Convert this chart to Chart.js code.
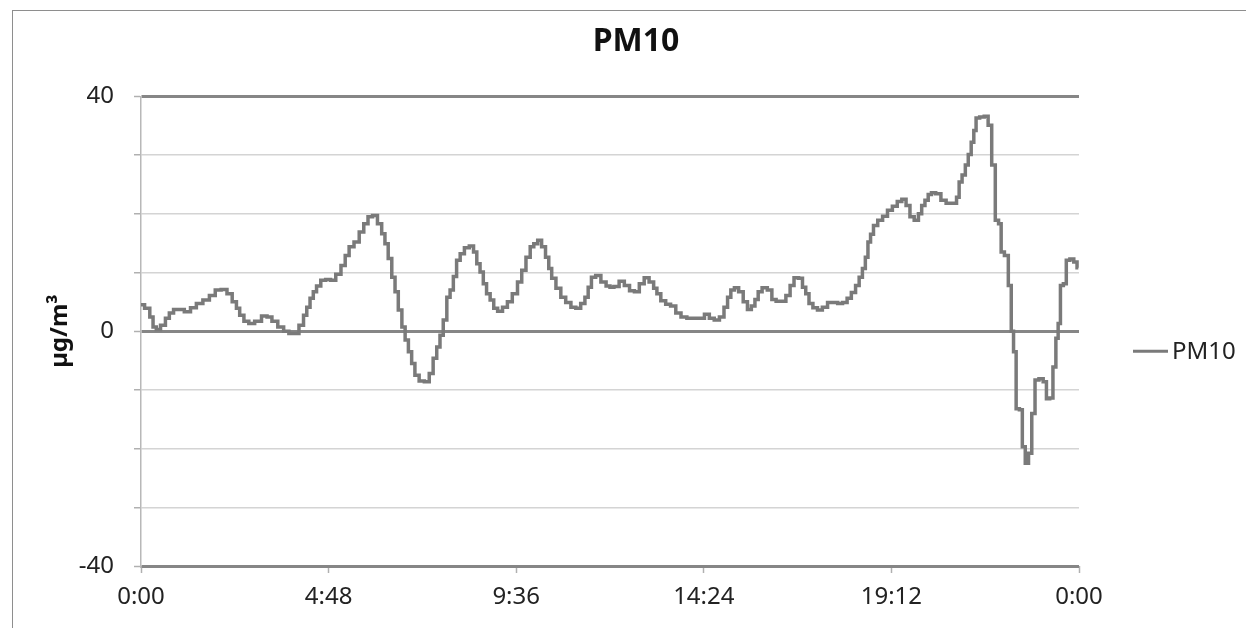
<!DOCTYPE html>
<html>
<head>
<meta charset="utf-8">
<title>PM10</title>
<script src="https://cdn.jsdelivr.net/npm/chart.js@4"></script>
<style>
  html, body { margin: 0; padding: 0; background: #fff; }
  #wrap { position: relative; width: 1246px; height: 628px; overflow: hidden; }
  #frame { position: absolute; left: 12px; top: 10px; width: 1300px; height: 700px; border: 1.5px solid #8e8e8e; }
  #pm10Chart { position: absolute; left: 0; top: 0; }
</style>
</head>
<body>
<div id="wrap">
  <div id="frame"></div>
  <canvas id="pm10Chart" width="1246" height="628"></canvas>
</div>
<script>
// time of day in minutes
const minutes = [
  0, 11, 16, 21, 26, 34, 41, 46, 54, 61, 72, 80, 90, 100, 110, 118, 128, 136, 144, 149,
  154, 162, 169, 180, 190, 197, 205, 215, 223, 231, 238,
  247, 252, 257, 262, 267, 272, 280, 287, 295, 303, 311, 316, 323, 331, 339, 345, 352, 359,
  367, 372, 377, 382, 388, 392, 398, 403, 408, 413, 418, 423, 431, 439, 446, 451, 457, 461,
  467, 472, 477, 482, 487,
  493, 500, 508, 513, 518, 523, 528, 533, 539, 544, 551, 559, 566, 574, 582, 587, 595, 600,
  606, 612, 618, 624, 628, 633, 641, 648, 656, 664, 671, 679, 684, 689, 694, 702, 710, 718,
  722, 730, 738, 746, 754, 761, 769, 776, 784, 790, 794, 802, 809, 817, 825, 833, 843, 853,
  861, 869, 876, 884, 892, 898, 903, 908, 914, 921, 928, 934, 940, 945, 950, 957,
  966, 971, 979, 986, 994, 999, 1006, 1013, 1018, 1023, 1028, 1035, 1042, 1050, 1058, 1066,
  1073, 1081, 1087, 1094, 1100, 1105, 1110, 1114, 1118, 1122, 1127, 1135, 1142, 1150, 1157,
  1165, 1171, 1178, 1183, 1191, 1196,
  1201, 1206, 1211, 1216, 1224, 1232, 1240, 1250, 1254, 1258, 1263, 1268, 1272, 1277, 1280,
  1284, 1291, 1298, 1303, 1309, 1314, 1319, 1322, 1329, 1334, 1338, 1341, 1346, 1351, 1355,
  1360, 1365, 1370, 1375, 1382, 1388, 1392, 1398, 1402, 1407, 1409, 1414, 1418, 1423, 1429,
  1435, 1439
];

// PM10 in µg/m³ at each time above
const pm10 = [
  4.5, 3.9, 2.4, 0.7, 0.3, 1.0, 2.2, 3.1, 3.7, 3.7, 3.3, 4.0, 4.7, 5.3, 6.1, 7.0, 7.1, 6.4, 5.0, 3.9,
  2.7, 1.7, 1.3, 1.7, 2.6, 2.4, 1.7, 0.7, 0.0, -0.4, -0.4,
  1.0, 2.7, 4.1, 5.6, 6.7, 7.7, 8.7, 8.8, 8.7, 9.7, 11.2, 12.9, 14.4, 15.2, 16.9, 18.3, 19.5, 19.7,
  18.3, 16.6, 14.9, 12.4, 9.2, 6.7, 3.6, 0.7, -1.5, -3.5, -5.5, -7.5, -8.5, -8.6, -7.2, -4.6, -2.7, -0.7,
  1.9, 5.8, 7.0, 9.3, 12.1,
  13.2, 14.2, 14.5, 13.5, 11.5, 10.1, 8.1, 6.4, 5.3, 3.9, 3.4, 4.1, 5.0, 6.4, 8.4, 10.4, 12.6, 14.4,
  14.9, 15.5, 14.4, 12.6, 10.7, 9.0, 7.3, 5.8, 4.9, 4.1, 3.9, 4.7, 5.8, 7.5, 9.2, 9.5, 8.4, 7.7,
  7.5, 7.6, 8.5, 7.8, 6.9, 6.7, 8.1, 9.1, 8.4, 7.3, 6.4, 5.2, 4.6, 4.3, 3.1, 2.4, 2.2, 2.2,
  2.2, 2.9, 2.2, 1.9, 2.4, 4.1, 5.8, 7.0, 7.4, 6.7, 5.0, 3.7, 4.3, 5.4, 6.7, 7.4,
  7.0, 5.4, 5.1, 5.1, 6.1, 7.8, 9.1, 9.0, 7.5, 6.4, 4.7, 4.0, 3.6, 4.1, 4.9, 4.9,
  4.7, 4.9, 5.6, 6.6, 7.8, 9.2, 10.7, 12.6, 15.2, 16.5, 18.0, 18.9, 19.6, 20.6, 21.3,
  22.1, 22.5, 21.4, 19.5, 18.9, 20.0,
  21.4, 22.3, 23.3, 23.6, 23.4, 22.3, 21.8, 21.8, 22.8, 25.4, 26.6, 28.3, 30.1, 32.2, 34.2,
  36.3, 36.5, 36.6, 35.1, 28.3, 18.9, 18.3, 13.5, 12.9, 7.8, 0.0, -3.5, -13.2, -13.4, -19.7,
  -22.5, -20.8, -14.0, -8.3, -8.1, -8.6, -11.5, -11.4, -6.1, -1.2, 1.3, 7.8, 8.1, 12.1, 12.3,
  11.8, 10.8
];

// axis settings
const yMin = -40;
const yMax = 40;
const yStep = 10;
const yLabelled = [-40, 0, 40];
const xStep = 288; // 4:48
const xMax = 1440;

function formatTime(value) {
  const h = Math.floor(value / 60) % 24;
  const m = Math.round(value % 60);
  return h + ":" + String(m).padStart(2, "0");
}

// centre the title over the whole frame, not just the plot + padding
const titleOverFrame = {
  id: "titleOverFrame",
  afterLayout(chart) {
    const t = chart.titleBlock;
    if (!t) return;
    t.left = 12;
    t.right = chart.width + 14;
    t.width = t.right - t.left;
  },
};

// draws the single legend entry to the right of the plot
const sideLegend = {
  id: "sideLegend",
  afterDraw(chart) {
    const ctx = chart.ctx;
    const ds = chart.data.datasets[0];
    const y = (chart.chartArea.top + chart.chartArea.bottom) / 2 + 20;
    const x = chart.chartArea.right + 54;
    ctx.save();
    ctx.strokeStyle = ds.borderColor;
    ctx.lineWidth = 3;
    ctx.beginPath();
    ctx.moveTo(x, y);
    ctx.lineTo(x + 35, y);
    ctx.stroke();
    ctx.fillStyle = "#222";
    ctx.font = "24px 'Noto Sans'";
    ctx.textBaseline = "middle";
    ctx.fillText(ds.label, x + 39, y + 1);
    ctx.restore();
  },
};

function loadPm10Chart() {
  const ctx = document.getElementById("pm10Chart").getContext("2d");

  const points = minutes.map((m, i) => ({ x: m, y: pm10[i] }));

  const config = {
    type: "line",
    data: {
      datasets: [
        {
          label: "PM10",
          data: points,
          borderColor: "#7a7a7a",
          borderWidth: 3.5,
          pointRadius: 0,
          stepped: "middle",
          fill: false,
        },
      ],
    },
    options: {
      responsive: false,
      animation: false,
      layout: {
        padding: { left: 12, right: 167, top: 0, bottom: 0 },
      },
      scales: {
        x: {
          type: "linear",
          min: 0,
          max: xMax,
          afterFit: (scale) => { scale.height = 62; },
          ticks: {
            stepSize: xStep,
            color: "#222",
            padding: 10,
            maxRotation: 0,
            font: { family: "'Noto Sans'", size: 24 },
            callback: (value) => formatTime(value),
          },
          grid: {
            drawOnChartArea: false,
            drawTicks: true,
            tickLength: 7,
            tickColor: "#b0b0b0",
            tickWidth: 1.5,
          },
          border: { display: false },
        },
        y: {
          min: yMin,
          max: yMax,
          afterFit: (scale) => { scale.width = 129; },
          title: {
            display: true,
            text: "µg/m³",
            color: "#111",
            font: { family: "'Noto Sans'", size: 24, weight: "bold" },
            padding: { top: 34, bottom: 0 },
          },
          ticks: {
            stepSize: yStep,
            color: "#222",
            padding: 20,
            font: { family: "'Noto Sans'", size: 24 },
            callback: (value) => (yLabelled.includes(value) ? value : ""),
          },
          grid: {
            color: (c) => (yLabelled.includes(c.tick.value) ? "#868686" : "#d4d4d4"),
            lineWidth: (c) => (yLabelled.includes(c.tick.value) ? 3 : 1.5),
            tickLength: 7,
            tickColor: "#b0b0b0",
            tickWidth: 1.5,
          },
          border: { display: true, color: "#b8b8b8", width: 1.5 },
        },
      },
      plugins: {
        legend: { display: false },
        tooltip: { enabled: false },
        title: {
          display: true,
          text: "PM10",
          color: "#111",
          font: { family: "'Noto Sans'", size: 32, weight: "bold" },
          padding: { top: 23, bottom: 35 },
        },
      },
    },
    plugins: [titleOverFrame, sideLegend],
  };

  window.pm10ChartInstance = new Chart(ctx, config);
}

document.addEventListener("DOMContentLoaded", () => {
  loadPm10Chart();
});
</script>
</body>
</html>
